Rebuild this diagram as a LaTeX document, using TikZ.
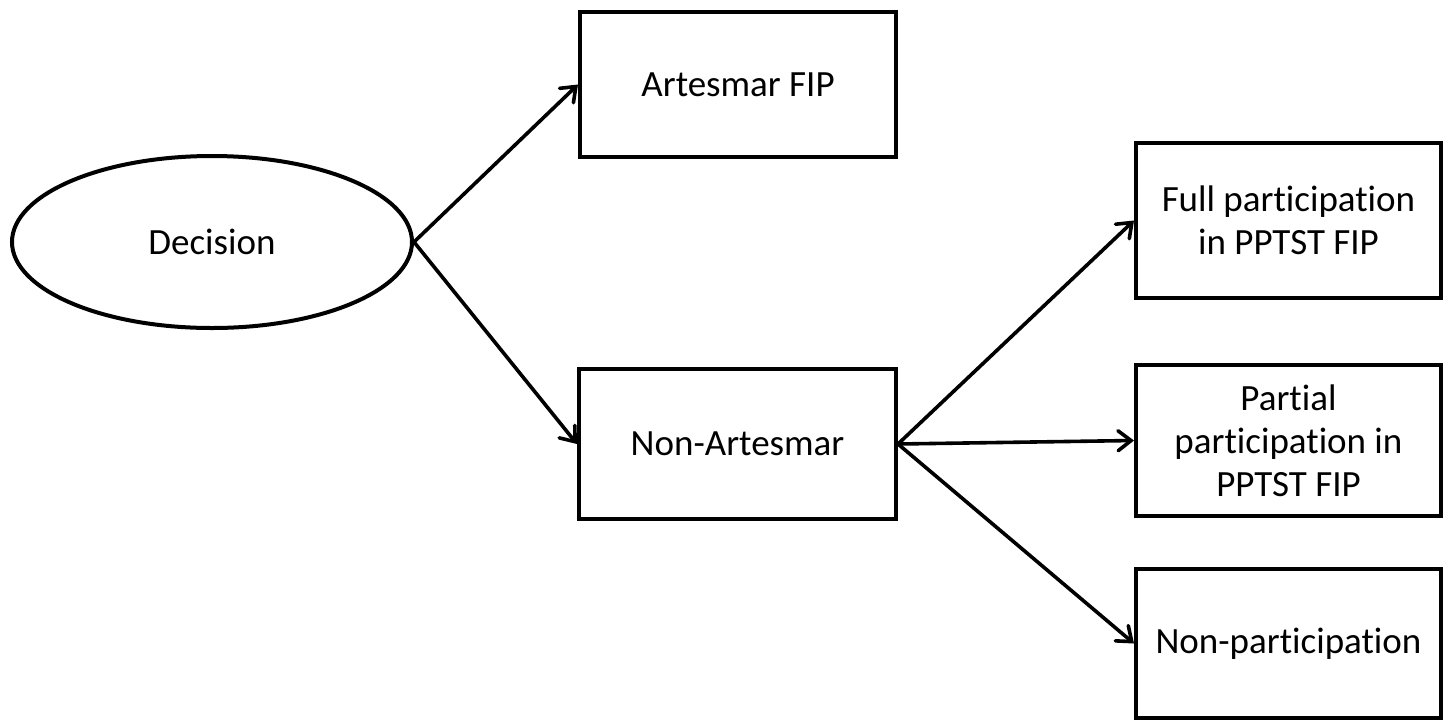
\documentclass[tikz,border=0pt]{standalone}
\usepackage{fontspec}
\setmainfont{Carlito}[Ligatures={NoCommon,NoRequired,NoContextual},RawFeature={-liga;-dlig;-calt;-clig}]
\usetikzlibrary{shapes.geometric,arrows.meta}
\newcommand\myti{t\kern0pt i}
\tikzset{
  box/.style={draw=black, line width=4pt, rectangle, inner sep=0pt, align=center, font=\fontsize{37}{43}\selectfont},
  oval/.style={draw=black, line width=4pt, ellipse, inner sep=0pt, align=center, font=\fontsize{37}{43}\selectfont},
  conn/.style={line width=3.6pt, -{Straight Barb[length=13pt,width=20pt,line width=3.6pt,line cap=round]}}
}
\begin{document}
\begin{tikzpicture}[x=1pt,y=-1pt]
\useasboundingbox[fill=white] (0,0) rectangle (1448,721);
\node[oval, minimum width=400pt, minimum height=172pt] (d) at (212,242) {Decision};
\node[box, minimum width=316pt, minimum height=145pt] (a) at (738,84.5) {Artesmar FIP};
\node[box, minimum width=317pt, minimum height=150pt] (n) at (737.5,444) {Non-Artesmar};
\node[box, minimum width=305pt, minimum height=155pt] (f) at (1288.5,220.5) {Full par\myti cipa\myti on\\in PPTST FIP};
\node[box, minimum width=305pt, minimum height=151pt] (p) at (1288.5,440.5) {Par\myti al\\par\myti cipa\myti on in\\PPTST FIP};
\node[box, minimum width=305pt, minimum height=149pt] (np) at (1288.5,643.5) {Non-par\myti cipa\myti on};
\draw[conn] (d.east) -- (a.west);
\draw[conn] (d.east) -- (n.west);
\draw[conn] (n.east) -- (f.west);
\draw[conn] (n.east) -- (p.west);
\draw[conn] (n.east) -- (np.west);
\end{tikzpicture}
\end{document}
